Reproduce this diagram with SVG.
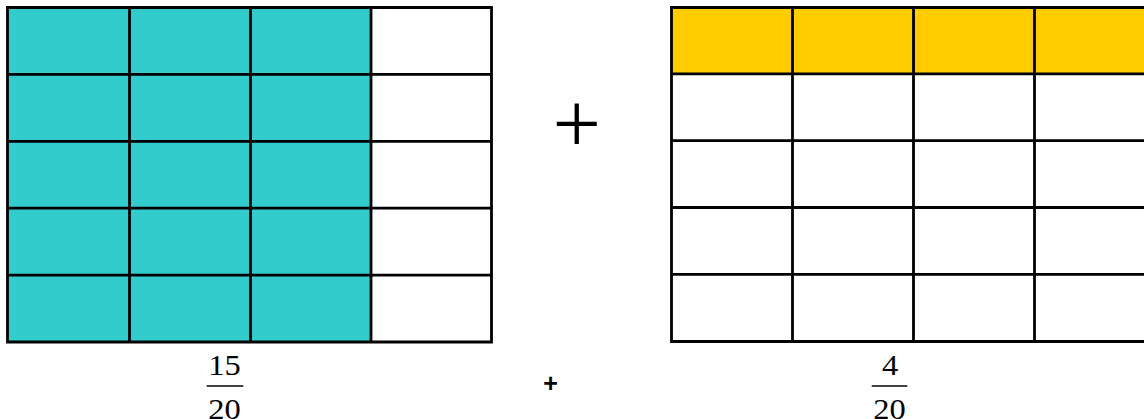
<svg xmlns="http://www.w3.org/2000/svg" width="1144" height="419" viewBox="0 0 1144 419">
<style>
.grid{fill:none;stroke:#000;stroke-width:2.8}
.teal{fill:#33CCCC}
.yel{fill:#FFCC00}
.num{font-family:"Liberation Serif","Times New Roman",serif;font-size:29.5px;fill:#000;text-anchor:middle}
.bar{stroke:#000;stroke-width:1.6}
</style>
<rect width="1144" height="419" fill="#fff"/>
<g id="left-grid">
<rect class="teal" x="7.5" y="7.5" width="363.5" height="334.5"/>
<path class="grid" d="M7.5 7.5H491.5V342H7.5Z M129.5 7.5V342 M250.5 7.5V342 M371 7.5V342 M7.5 74.4H491.5 M7.5 141.3H491.5 M7.5 208.2H491.5 M7.5 275.1H491.5"/>
</g>
<g id="right-grid">
<rect class="yel" x="671.5" y="7.5" width="484" height="66"/>
<path class="grid" d="M1155.5 7.5H671.5V341.5H1155.5 M792.5 7.5V341.5 M913.5 7.5V341.5 M1034.5 7.5V341.5 M671.5 73.9H1155.5 M671.5 140.7H1155.5 M671.5 207.5H1155.5 M671.5 274.3H1155.5"/>
</g>
<g id="big-plus">
<text x="576.7" y="153.3" style="font-family:'Liberation Serif','Times New Roman',serif;font-size:86px;text-anchor:middle">+</text>
</g>
<g id="small-plus">
<text x="550.5" y="391.5" style="font-family:'Liberation Sans',Arial,sans-serif;font-weight:bold;font-size:25px;text-anchor:middle">+</text>
</g>
<g id="frac-left">
<text class="num" transform="translate(224.5 374.5) scale(1.1 1)">15</text>
<line class="bar" x1="206.7" y1="386" x2="243.3" y2="386"/>
<text class="num" transform="translate(224.5 418.5) scale(1.1 1)">20</text>
</g>
<g id="frac-right">
<text class="num" transform="translate(890 374.5) scale(1.1 1)">4</text>
<line class="bar" x1="871.7" y1="386" x2="907.3" y2="386"/>
<text class="num" transform="translate(889.5 418.5) scale(1.1 1)">20</text>
</g>
</svg>
